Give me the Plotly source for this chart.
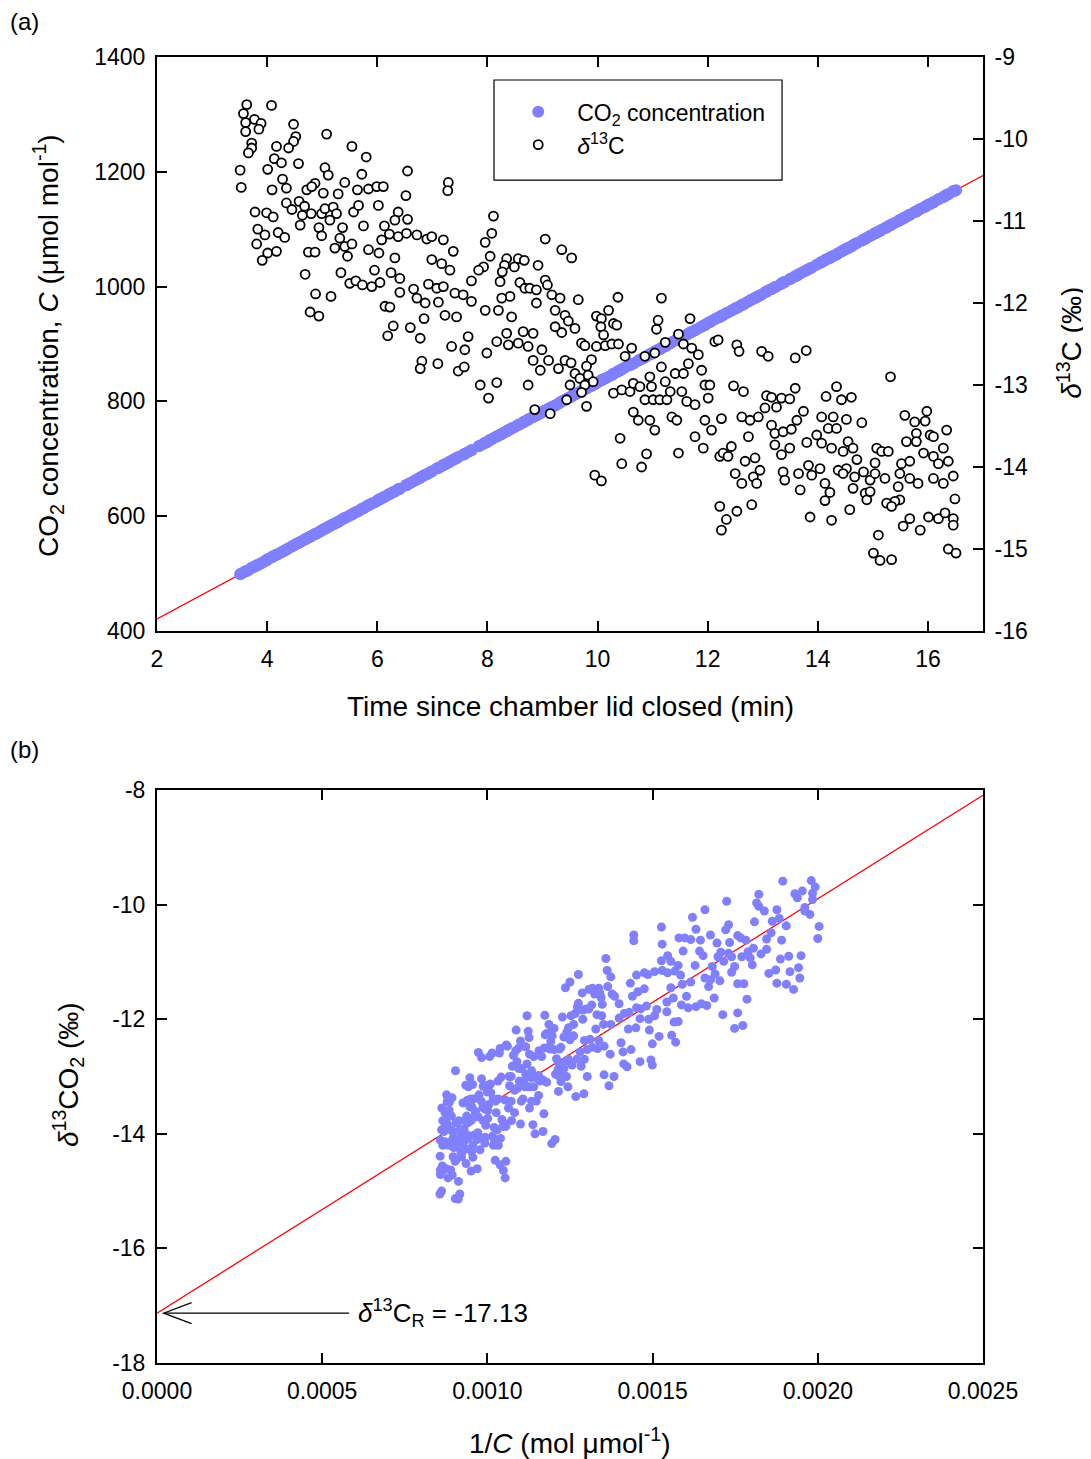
import numpy as np
import plotly.graph_objects as go

# ---------------- data ----------------
time_min = [
    3.63, 4.08, 3.57, 3.61, 3.77, 3.89, 3.85, 3.61, 4.48, 4.52, 4.48, 5.08, 3.72, 3.72, 3.66, 4.17,
    4.39, 4.13, 4.26, 4.57, 5.54, 5.80, 3.51, 4.01, 5.05, 5.11, 5.72, 6.55, 3.53, 4.09, 4.28, 4.35,
    4.72, 4.87, 4.81, 5.02, 5.29, 5.41, 5.64, 5.84, 5.99, 6.11, 6.52, 7.29, 7.28, 3.78, 3.99, 4.11,
    4.35, 4.45, 4.58, 4.68, 4.64, 4.80, 4.99, 5.05, 5.20, 5.26, 5.57, 5.66, 6.02, 6.38, 6.55, 4.60,
    4.94, 5.14, 4.99, 5.37, 5.75, 6.13, 6.32, 6.22, 6.38, 6.53, 6.72, 6.90, 6.99, 7.20, 3.83, 3.96,
    4.20, 4.32, 3.81, 4.01, 3.91, 4.17, 4.75, 4.87, 5.23, 5.32, 5.41, 5.46, 5.54, 5.84, 6.03, 6.08,
    6.32, 6.99, 7.17, 7.32, 7.38, 4.69, 5.34, 5.50, 5.61, 5.73, 5.90, 5.95, 6.05, 6.25, 6.41, 6.41,
    6.66, 6.72, 6.93, 7.08, 7.20, 6.87, 7.11, 7.41, 7.56, 7.71, 4.88, 5.16, 4.78, 4.94, 6.14, 6.23,
    6.29, 6.19, 6.60, 6.78, 6.85, 7.23, 7.44, 7.65, 7.35, 7.59, 6.81, 6.78, 7.10, 7.47, 7.58,
    8.11, 8.08, 7.96, 8.05, 9.05, 9.35, 9.53, 8.35, 8.56, 8.67, 8.31, 8.49, 8.27, 7.93, 7.84, 8.92,
    8.23, 8.59, 8.68, 8.77, 8.89, 9.05, 9.09, 9.17, 9.32, 9.65, 10.37, 11.16, 8.41, 8.26, 7.71, 7.96,
    8.20, 8.44, 8.89, 9.23, 9.41, 9.47, 9.59, 9.35, 9.23, 9.98, 10.07, 10.20, 10.29, 10.35, 10.06, 10.11,
    11.10, 11.07, 11.68, 11.47, 11.23, 11.56, 11.71, 11.83, 12.13, 12.19, 8.35, 8.17, 8.38, 8.56, 8.65, 8.83,
    8.74, 8.99, 9.71, 9.77, 9.98, 10.14, 10.26, 10.38, 10.62, 9.89, 9.80, 10.50, 10.86, 11.04, 11.16, 7.99,
    7.87, 8.17, 8.02, 8.74, 8.83, 8.96, 9.11, 9.29, 9.41, 9.52, 9.59, 9.68, 9.83, 9.92, 9.77, 9.50,
    9.71, 9.44, 8.86, 9.14, 9.80, 10.29, 10.44, 10.59, 10.65, 10.77, 10.95, 10.98, 10.86, 11.01, 11.13, 11.23,
    11.26, 11.32, 11.41, 11.56, 11.65, 11.89, 11.53, 11.62, 11.77, 11.95, 12.04, 12.01, 10.65, 10.74, 10.95, 11.04,
    11.35, 11.44, 11.95, 12.07, 12.25, 11.77, 11.92, 11.47, 10.89, 10.41, 10.44, 10.80, 9.95, 10.07, 12.22, 12.28,
    12.22, 12.25,
    12.53, 12.57, 12.98, 13.10, 13.59, 13.79, 15.32, 12.47, 12.65, 13.07, 13.16, 13.34, 13.49, 13.59, 14.15, 14.34,
    14.43, 14.61, 12.62, 12.77, 12.92, 13.04, 13.25, 13.62, 13.74, 12.74, 13.16, 13.22, 13.37, 13.52, 14.07, 14.28,
    14.52, 14.80, 14.19, 14.34, 13.80, 13.98, 14.07, 14.25, 13.22, 13.34, 13.49, 14.46, 14.55, 14.64, 15.07, 15.16,
    15.28, 14.71, 15.04, 14.52, 14.37, 14.46, 14.67, 14.83, 14.95, 15.04, 15.22, 14.04, 13.89, 13.83, 13.65, 13.68,
    13.37, 13.40, 14.13, 14.22, 14.13, 14.64, 14.86, 14.89, 14.95, 15.58, 15.76, 15.98, 15.95, 15.79, 16.04, 16.10,
    16.34, 15.61, 15.79, 15.92, 16.10, 16.19, 16.28, 16.37, 15.52, 15.67, 15.49, 15.67, 15.82, 16.10, 16.28, 16.46,
    15.46, 15.49, 15.40, 15.25, 15.34, 16.49, 12.68, 12.43, 12.37, 12.50, 12.86, 12.95, 12.83, 12.62, 12.89, 12.34,
    12.53, 12.80, 13.86, 14.25, 14.58, 15.10, 15.01, 15.13, 15.34, 15.55, 15.67, 15.86, 16.01, 16.19, 16.31, 16.46,
    16.46, 16.37, 16.51,
]

co2_umol = [
    505, 528, 502, 504, 512, 518, 516, 504, 549, 551, 549, 580, 510, 510, 506, 533,
    544, 531, 537, 553, 603, 617, 499, 525, 578, 581, 613, 655, 500, 529, 538, 542,
    561, 569, 566, 577, 590, 597, 608, 619, 626, 633, 654, 693, 693, 513, 523, 530,
    542, 547, 554, 559, 557, 565, 575, 578, 586, 589, 605, 609, 628, 647, 655, 555,
    572, 583, 575, 595, 614, 634, 643, 638, 647, 654, 664, 673, 678, 689, 515, 522,
    534, 540, 514, 525, 519, 533, 563, 569, 587, 592, 597, 599, 603, 619, 629, 631,
    643, 678, 687, 695, 698, 560, 593, 601, 607, 613, 622, 624, 630, 640, 648, 648,
    661, 664, 675, 683, 689, 672, 684, 700, 707, 715, 569, 584, 564, 572, 634, 639,
    642, 637, 658, 667, 671, 690, 701, 712, 697, 709, 669, 667, 684, 703, 708,
    736, 734, 728, 733, 784, 800, 809, 748, 759, 765, 746, 755, 744, 726, 722, 777,
    742, 760, 765, 770, 776, 784, 786, 790, 798, 815, 852, 893, 751, 743, 715, 728,
    740, 753, 776, 793, 803, 806, 812, 800, 793, 832, 837, 843, 848, 851, 836, 839,
    890, 888, 920, 909, 896, 913, 921, 927, 943, 946, 748, 739, 750, 759, 763, 773,
    768, 781, 818, 821, 832, 840, 846, 853, 865, 827, 823, 859, 877, 887, 893, 729,
    723, 739, 731, 768, 773, 779, 787, 796, 803, 808, 812, 817, 824, 829, 821, 807,
    818, 804, 774, 789, 823, 848, 856, 863, 866, 873, 882, 883, 877, 885, 891, 896,
    898, 901, 906, 913, 918, 930, 912, 916, 924, 933, 938, 937, 866, 871, 882, 887,
    903, 907, 933, 940, 949, 924, 932, 909, 879, 854, 856, 874, 830, 837, 947, 950,
    947, 949,
    963, 965, 986, 993, 1018, 1028, 1107, 960, 969, 991, 996, 1005, 1013, 1018, 1047, 1056,
    1061, 1070, 968, 976, 983, 990, 1000, 1019, 1026, 974, 996, 999, 1007, 1014, 1043, 1053,
    1066, 1080, 1049, 1056, 1029, 1038, 1043, 1052, 999, 1005, 1013, 1063, 1067, 1072, 1094, 1099,
    1105, 1076, 1093, 1066, 1058, 1063, 1074, 1082, 1088, 1093, 1102, 1041, 1033, 1030, 1021, 1023,
    1007, 1008, 1046, 1050, 1046, 1072, 1083, 1085, 1088, 1120, 1130, 1141, 1139, 1131, 1144, 1147,
    1160, 1122, 1131, 1138, 1147, 1152, 1156, 1161, 1117, 1125, 1116, 1125, 1133, 1147, 1156, 1166,
    1114, 1116, 1111, 1103, 1108, 1167, 971, 958, 955, 962, 980, 985, 979, 968, 982, 954,
    963, 977, 1032, 1052, 1069, 1096, 1091, 1097, 1108, 1119, 1125, 1135, 1143, 1152, 1158, 1166,
    1166, 1161, 1168,
]

d13c_permil = [
    -9.58, -9.59, -9.69, -9.80, -9.76, -9.81, -9.88, -9.91, -9.82, -9.97, -10.03, -9.94, -10.05, -10.11, -10.17, -10.09,
    -10.11, -10.24, -10.29, -10.30, -10.09, -10.22, -10.38, -10.37, -10.35, -10.44, -10.43, -10.39, -10.59, -10.62, -10.49, -10.60,
    -10.62, -10.54, -10.58, -10.66, -10.67, -10.53, -10.62, -10.61, -10.58, -10.58, -10.69, -10.53, -10.63, -10.89, -10.90, -10.95,
    -10.78, -10.86, -10.76, -10.82, -10.93, -10.91, -10.91, -10.85, -10.83, -10.91, -10.89, -10.81, -10.81, -10.89, -10.98, -11.05,
    -11.08, -10.99, -11.18, -11.08, -11.06, -11.06, -10.99, -11.16, -11.19, -11.15, -11.17, -11.22, -11.19, -11.23, -11.10, -11.17,
    -11.14, -11.20, -11.28, -11.39, -11.48, -11.37, -11.38, -11.38, -11.33, -11.21, -11.31, -11.43, -11.28, -11.35, -11.39, -11.23,
    -11.45, -11.47, -11.52, -11.60, -11.37, -11.65, -11.63, -11.76, -11.73, -11.78, -11.80, -11.60, -11.75, -11.63, -11.70, -11.87,
    -11.83, -11.94, -11.77, -11.82, -11.80, -12.00, -11.99, -11.88, -11.90, -11.73, -11.89, -11.92, -12.11, -12.16, -12.04, -12.05,
    -12.28, -12.40, -12.30, -12.43, -12.19, -12.15, -12.17, -12.41, -12.53, -12.57, -12.71, -12.80, -12.74, -12.83, -12.78,
    -10.94, -11.15, -11.26, -11.43, -11.22, -11.35, -11.45, -11.46, -11.46, -11.48, -11.54, -11.56, -11.62, -11.56, -11.60, -11.54,
    -11.74, -11.75, -11.82, -11.82, -11.84, -11.72, -11.78, -11.90, -11.94, -11.96, -11.93, -11.94, -11.92, -11.94, -11.98, -12.09,
    -12.09, -12.17, -12.00, -12.09, -12.15, -12.22, -12.31, -12.36, -12.29, -12.16, -12.19, -12.09, -12.25, -12.27, -12.29, -12.39,
    -12.21, -12.32, -12.19, -12.38, -12.48, -12.50, -12.55, -12.63, -12.47, -12.45, -12.37, -12.47, -12.51, -12.49, -12.35, -12.37,
    -12.53, -12.57, -12.49, -12.52, -12.53, -12.52, -12.50, -12.50, -12.55, -12.69, -12.77, -12.65, -12.65, -12.61, -12.78, -12.61,
    -13.00, -12.97, -13.16, -13.00, -12.70, -12.82, -12.70, -12.80, -12.70, -12.73, -12.86, -12.92, -12.88, -12.96, -13.00, -13.00,
    -13.09, -13.18, -13.30, -13.35, -13.26, -13.10, -13.06, -13.08, -12.98, -13.02, -12.90, -13.02, -13.18, -13.18, -13.18, -12.96,
    -13.18, -13.08, -12.86, -12.86, -12.74, -12.82, -13.08, -13.20, -13.24, -13.00, -13.00, -13.16, -13.33, -13.43, -13.43, -13.55,
    -13.39, -13.43, -13.43, -13.55, -13.41, -13.63, -13.77, -13.83, -13.84, -13.65, -13.96, -14.00, -14.10, -14.17, -13.87, -13.83,
    -14.48, -14.77,
    -12.51, -12.59, -12.59, -12.65, -12.67, -12.58, -12.90, -13.01, -13.08, -13.13, -13.15, -13.16, -13.17, -13.04, -13.14, -13.02,
    -13.18, -13.15, -13.39, -13.43, -13.39, -13.28, -13.27, -13.43, -13.32, -13.63, -13.49, -13.59, -13.57, -13.54, -13.39, -13.39,
    -13.42, -13.46, -13.53, -13.53, -13.70, -13.61, -13.71, -13.77, -13.73, -13.85, -13.77, -13.81, -13.69, -13.77, -13.77, -13.81,
    -13.81, -13.91, -13.95, -14.02, -14.04, -14.08, -14.12, -14.06, -14.16, -14.08, -14.14, -14.02, -14.10, -13.98, -14.08, -14.28,
    -14.06, -14.16, -14.20, -14.31, -14.41, -14.26, -14.32, -14.40, -14.30, -13.37, -13.45, -13.32, -13.44, -13.59, -13.61, -13.63,
    -13.55, -13.69, -13.69, -13.83, -13.87, -13.96, -13.77, -13.93, -13.96, -13.93, -14.08, -14.14, -14.20, -14.14, -14.20, -14.11,
    -14.24, -14.40, -14.42, -14.44, -14.48, -14.39, -13.93, -13.75, -13.87, -14.08, -13.89, -14.04, -14.12, -14.20, -14.20, -14.64,
    -14.54, -14.46, -14.61, -14.65, -14.52, -14.83, -15.05, -15.14, -15.13, -14.72, -14.63, -14.77, -14.61, -14.63, -14.56, -14.63,
    -14.71, -15.00, -15.05,
]

# fitted relations
co2_fit_intercept = 318.0      # umol/mol at t = 0
co2_fit_slope = 51.5           # umol/mol per min
keeling_intercept = -17.13     # per mil
keeling_slope = 3616.0         # per mil per (mol/umol)

# axes
time_range = [2, 17]
time_ticks = [2, 4, 6, 8, 10, 12, 14, 16]
co2_range = [400, 1400]
co2_ticks = [400, 600, 800, 1000, 1200, 1400]
d13c_range = [-16, -9]
d13c_ticks = [-16, -15, -14, -13, -12, -11, -10, -9]
invc_range = [0, 0.0025]
invc_ticks = [0, 0.0005, 0.0010, 0.0015, 0.0020, 0.0025]
keel_range = [-18, -8]
keel_ticks = [-18, -16, -14, -12, -10, -8]

time_ticktext = [str(v) for v in time_ticks]
co2_ticktext = [str(v) for v in co2_ticks]
d13c_ticktext = [str(v) for v in d13c_ticks]
invc_ticktext = ["%.4f" % v for v in invc_ticks]
keel_ticktext = [str(v) for v in keel_ticks]

# ---------------- figure ----------------
FONT = "Liberation Sans, Arial, Helvetica, sans-serif"
BLUE = "#8080ff"

inv_c = 1.0 / np.array(co2_umol, dtype=float)

fig = go.Figure()

# panel (a)
fig.add_trace(go.Scatter(
    x=time_range, y=[co2_fit_intercept + co2_fit_slope * t for t in time_range],
    mode="lines", line=dict(color="red", width=1.3),
    showlegend=False, hoverinfo="skip", xaxis="x", yaxis="y"))
fig.add_trace(go.Scatter(
    x=time_min, y=co2_umol, mode="markers",
    marker=dict(size=12, color=BLUE, line=dict(width=0)),
    name="CO<sub>2</sub> concentration", xaxis="x", yaxis="y"))
fig.add_trace(go.Scatter(
    x=time_min, y=d13c_permil, mode="markers",
    marker=dict(size=9, color="white", line=dict(color="black", width=1.8)),
    name="<i>δ</i><sup>13</sup>C", xaxis="x", yaxis="y2"))

# panel (b)
fig.add_trace(go.Scatter(
    x=invc_range, y=[keeling_intercept + keeling_slope * v for v in invc_range],
    mode="lines", line=dict(color="red", width=1.3),
    showlegend=False, hoverinfo="skip", xaxis="x2", yaxis="y3"))
fig.add_trace(go.Scatter(
    x=inv_c, y=d13c_permil, mode="markers",
    marker=dict(size=9, color=BLUE, line=dict(width=0)),
    showlegend=False, xaxis="x2", yaxis="y3"))

axis_common = dict(
    showgrid=False, zeroline=False, showline=True, linecolor="black", linewidth=2,
    ticks="inside", ticklen=10, tickwidth=2, tickcolor="black",
    tickfont=dict(size=23, color="black", family=FONT),
)

# the page body has an 8 px margin: the figure is sized so the plot areas land
# where the reference has them (x 157-983, y 57-631 and 790-1363)
fig.update_layout(
    width=1083, height=1451,
    margin=dict(l=149, r=108, t=49, b=96),
    paper_bgcolor="white", plot_bgcolor="white",
    font=dict(family=FONT, color="black", size=22),
    xaxis=dict(axis_common, domain=[0, 1], anchor="y", range=time_range,
               tickvals=time_ticks, ticktext=time_ticktext, mirror="ticks",
               ticklabelstandoff=6),
    yaxis=dict(axis_common, domain=[0.5605, 1], anchor="x", range=co2_range,
               tickvals=co2_ticks, ticktext=co2_ticktext, mirror=True,
               ticklabelstandoff=5),
    yaxis2=dict(axis_common, overlaying="y", side="right", anchor="x", range=d13c_range,
                tickvals=d13c_ticks, ticktext=d13c_ticktext, ticklabelstandoff=5),
    xaxis2=dict(axis_common, domain=[0, 1], anchor="y3", range=invc_range,
                tickvals=invc_ticks, ticktext=invc_ticktext, mirror="ticks",
                ticklabelstandoff=6),
    yaxis3=dict(axis_common, domain=[0, 0.4387], anchor="x2", range=keel_range,
                tickvals=keel_ticks, ticktext=keel_ticktext, mirror="ticks",
                ticklabelstandoff=5),
    legend=dict(x=0.4143, y=0.9745, xanchor="left", yanchor="top",
                bgcolor="rgba(0,0,0,0)", borderwidth=0, itemwidth=68,
                font=dict(size=23, family=FONT, color="black")),
    showlegend=True,
)

# legend frame
fig.add_shape(type="rect", xref="paper", yref="paper",
              x0=0.408, x1=0.7567, y0=0.9058, y1=0.9824,
              line=dict(color="black", width=1.2), fillcolor="rgba(0,0,0,0)")

title_font = dict(size=28, family=FONT, color="black")
ann = [
    dict(text="(a)", x=-0.1804, y=1.027, xanchor="left", yanchor="middle",
         font=dict(size=24, family=FONT, color="black")),
    dict(text="(b)", x=-0.1804, y=0.4694, xanchor="left", yanchor="middle",
         font=dict(size=24, family=FONT, color="black")),
    dict(text="Time since chamber lid closed (min)", x=0.5, y=0.5023,
         xanchor="center", yanchor="middle", font=title_font),
    dict(text="CO<sub>2</sub> concentration, <i>C</i> (μmol mol<sup>-1</sup>)",
         x=-0.132, y=0.7795, xanchor="center", yanchor="middle", textangle=-90, font=title_font),
    dict(text="<i>δ</i><sup>13</sup>C (‰)", x=1.105, y=0.781,
         xanchor="center", yanchor="middle", textangle=-90, font=title_font),
    dict(text="1/<i>C</i> (mol μmol<sup>-1</sup>)", x=0.5, y=-0.0597,
         xanchor="center", yanchor="middle", font=title_font),
    dict(text="<i>δ</i><sup>13</sup>CO<sub>2</sub> (‰)", x=-0.1077, y=0.2205,
         xanchor="center", yanchor="middle", textangle=-90, font=title_font),
]
for a in ann:
    fig.add_annotation(xref="paper", yref="paper", showarrow=False, **a)

# intercept annotation with arrow
tip_x = 0.00002
fig.add_annotation(
    xref="x2", yref="y3", x=tip_x, y=keeling_intercept,
    text="<i>δ</i><sup>13</sup>C<sub>R</sub> = -17.13",
    showarrow=True, arrowhead=0, arrowwidth=1.2, arrowcolor="black",
    axref="pixel", ayref="pixel", ax=279, ay=0, borderpad=8,
    font=dict(size=26, family=FONT, color="black"))
fig.add_shape(type="path", xref="x2", yref="y3",
              xsizemode="pixel", ysizemode="pixel",
              xanchor=tip_x, yanchor=keeling_intercept,
              path="M 28,10.5 L 0,0 L 28,-10.5",
              line=dict(color="black", width=1.2))

fig.write_html("out.html")
